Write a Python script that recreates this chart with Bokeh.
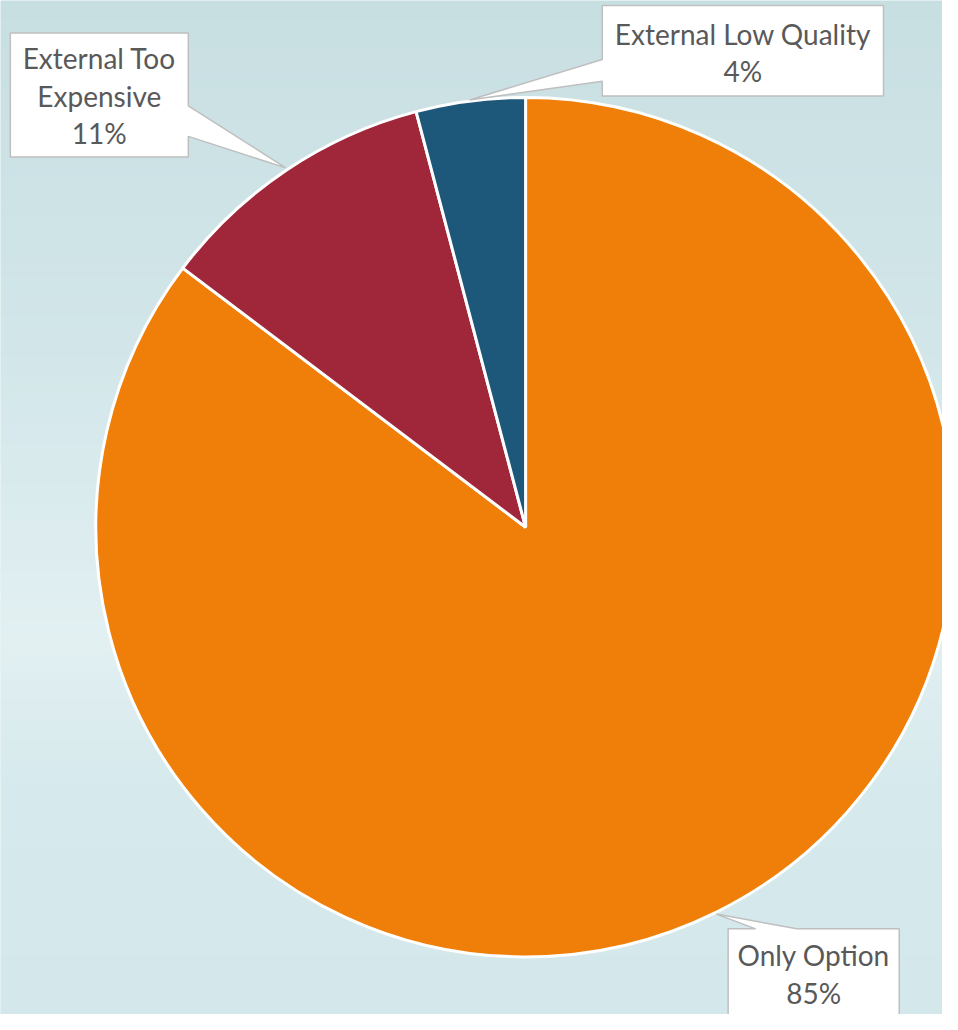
import math
from bokeh.plotting import figure
from bokeh.models import Range1d, ColumnDataSource
from bokeh.core.properties import value
from bokeh.embed import file_html
from bokeh.resources import INLINE

# ---- data ----
categories = ["Only Option", "External Too Expensive", "External Low Quality"]
shares = [85.3, 10.6, 4.1]
colors = ["#f07f09", "#a0273a", "#1d577a"]
label_lines = [["Only Option"], ["External Too", "Expensive"], ["External Low Quality"]]

W, H = 958, 1030
p = figure(width=942, height=1014, x_range=Range1d(0, W), y_range=Range1d(0, H),
           output_backend="svg", toolbar_location=None, min_border=0)
p.axis.visible = False
p.grid.visible = False
p.outline_line_color = None
p.background_fill_color = "#d6e9ec"
p.border_fill_color = "#d6e9ec"

# background gradient (top -> bottom, in screen terms)
stops = [(0, (200, 223, 226)), (350, (210, 230, 233)), (650, (226, 240, 242)),
         (800, (214, 233, 236)), (1030, (212, 231, 234))]
def col_at(yy):
    for (y0, c0), (y1, c1) in zip(stops[:-1], stops[1:]):
        if y0 <= yy <= y1:
            t = (yy - y0) / (y1 - y0)
            return "#%02x%02x%02x" % tuple(int(round(a + (b - a) * t)) for a, b in zip(c0, c1))
    return "#%02x%02x%02x" % stops[-1][1]
nb = 103
band = H / nb
tops = [H - i * band for i in range(nb)]
bots = [H - (i + 1) * band - 0.5 for i in range(nb)]
bcols = [col_at(i * band + band / 2) for i in range(nb)]
p.quad(left=0, right=W, top=tops, bottom=bots, fill_color=bcols, line_color=None)

# ---- pie ----
cx, cy, r = 534, H - 535, 437
total = sum(shares)
starts, ends = [], []
cum = 0.0
for s in shares:
    a0 = math.pi / 2 - cum / total * 2 * math.pi
    cum += s
    a1 = math.pi / 2 - cum / total * 2 * math.pi
    starts.append(a0)
    ends.append(a1)
src = ColumnDataSource(dict(start=starts, end=ends, color=colors, cat=categories))
p.wedge(x=cx, y=cy, radius=r, start_angle="start", end_angle="end", direction="clock",
        fill_color="color", line_color="white", line_width=3, source=src)

# ---- callout labels (screen coords from top) ----
def sy(v):
    return H - v

callouts = [
    # Only Option
    dict(poly=[(740, 943), (768, 943), (728, 928), (810, 943), (914, 943), (914, 1040), (740, 1040)],
         cx=827, lines_y=[970, 1008]),
    # External Too Expensive
    dict(poly=[(10, 33), (191, 33), (191, 107), (290, 170), (191, 138), (191, 159), (10, 159)],
         cx=100.5, lines_y=[58, 97, 135]),
    # External Low Quality
    dict(poly=[(612, 5), (898, 5), (898, 97), (612, 97), (612, 82), (477, 101), (612, 60)],
         cx=755, lines_y=[34, 72]),
]
font = value("Lato")
for i, c in enumerate(callouts):
    xs = [pt[0] for pt in c["poly"]]
    ys = [sy(pt[1]) for pt in c["poly"]]
    p.patch(xs, ys, fill_color="white", line_color="#bfbfbf", line_width=1.5)
    texts = label_lines[i] + ["%.0f%%" % shares[i]]
    p.text(x=[c["cx"]] * len(texts), y=[sy(v) for v in c["lines_y"]], text=texts,
           text_align="center", text_baseline="middle", text_font=font,
           text_font_size="28px", text_color="#595959")

open("out.html", "w").write(file_html(p, INLINE))
